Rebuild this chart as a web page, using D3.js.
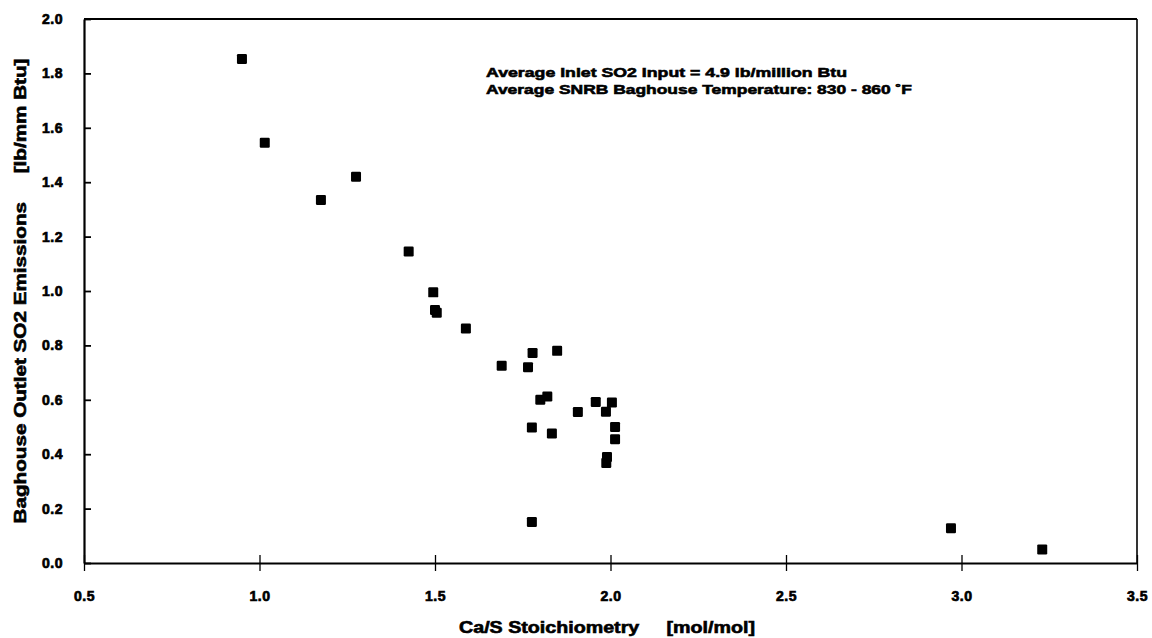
<!DOCTYPE html>
<html><head><meta charset="utf-8">
<script src="https://cdn.jsdelivr.net/npm/d3@7"></script>
<style>
body{margin:0;background:#fff;}
text{font-family:"Liberation Sans",Arial,sans-serif;font-weight:bold;fill:#000;stroke:#000;stroke-width:0.6px;}
</style></head>
<body><svg id="c" width="1152" height="638"></svg>
<script>
const caS = [0.95,1.015,1.175,1.275,1.425,1.495,1.50,1.505,1.588,1.69,1.765,1.778,1.848,1.80,1.82,1.776,1.833,1.907,1.958,2.004,1.987,2.013,2.013,1.99,1.988,1.776,2.97,3.23];
const so2 = [1.853,1.545,1.335,1.42,1.145,0.995,0.93,0.92,0.862,0.725,0.72,0.772,0.78,0.60,0.612,0.498,0.476,0.555,0.592,0.59,0.556,0.50,0.455,0.39,0.368,0.151,0.128,0.05];
const xTicks = [0.5,1.0,1.5,2.0,2.5,3.0,3.5];
const yTicks = [0.0,0.2,0.4,0.6,0.8,1.0,1.2,1.4,1.6,1.8,2.0];
const notes = ["Average Inlet SO2 Input = 4.9 lb/million Btu","Average SNRB Baghouse Temperature:  830 - 860 \u02DAF"];

const svg = d3.select("#c");
const L=84,R=1137,T=19,B=563;
const x = d3.scaleLinear().domain([0.5,3.5]).range([L,R]);
const y = d3.scaleLinear().domain([0,2.0]).range([B,T]);

svg.append("line").attr("x1",L).attr("x2",R).attr("y1",T).attr("y2",T).attr("stroke","#000").attr("stroke-width",2);
svg.append("line").attr("x1",R).attr("x2",R).attr("y1",T).attr("y2",B).attr("stroke","#000").attr("stroke-width",1.6);

const xa = svg.append("g").attr("transform",`translate(0,${B})`)
  .call(d3.axisBottom(x).tickValues(xTicks).tickFormat(d3.format(".1f")).tickSizeInner(8).tickSizeOuter(0).tickPadding(22));
xa.select(".domain").attr("stroke-width",2.2);
xa.selectAll(".tick line").attr("y1",-8).attr("stroke-width",1.3);
xa.selectAll(".tick text").attr("font-size",14).attr("dy","0.55em")
  .style("font-family","'Liberation Sans',Arial,sans-serif").style("font-weight","bold").style("stroke","#000").style("stroke-width","0.7px")
  .style("letter-spacing","0.5px");

const ya = svg.append("g").attr("transform",`translate(${L},0)`)
  .call(d3.axisLeft(y).tickValues(yTicks).tickFormat(d3.format(".1f")).tickSizeInner(7).tickSizeOuter(0).tickPadding(14));
ya.select(".domain").attr("stroke-width",2.2);
ya.selectAll(".tick line").attr("x2",7).attr("stroke-width",1.8);
ya.selectAll(".tick text").attr("font-size",14)
  .style("font-family","'Liberation Sans',Arial,sans-serif").style("font-weight","bold").style("stroke","#000").style("stroke-width","0.7px")
  .style("letter-spacing","0.5px");

const pts = caS.map((v,i)=>[v,so2[i]]);
svg.append("g").selectAll("rect").data(pts).join("rect")
  .attr("x",d=>x(d[0])-5).attr("y",d=>y(d[1])-5).attr("width",10).attr("height",10)
  .attr("rx",1.2).attr("fill","#000");

svg.selectAll("text.note").data(notes).join("text").attr("class","note")
  .attr("x",486).attr("y",(d,i)=>77+i*17).attr("font-size",13.5)
  .attr("textLength",(d,i)=>i===0?361:426).attr("lengthAdjust","spacingAndGlyphs")
  .text(d=>d);

svg.append("text").attr("x",607).attr("y",633).attr("text-anchor","middle").attr("font-size",16)
  .attr("textLength",296).attr("lengthAdjust","spacingAndGlyphs")
  .attr("xml:space","preserve").text("Ca/S Stoichiometry     [mol/mol]");
svg.append("text").attr("transform","translate(26,291) rotate(-90)").attr("text-anchor","middle").attr("font-size",16)
  .attr("textLength",465).attr("lengthAdjust","spacingAndGlyphs")
  .attr("xml:space","preserve").text("Baghouse Outlet SO2 Emissions     [lb/mm Btu]");
</script></body></html>
